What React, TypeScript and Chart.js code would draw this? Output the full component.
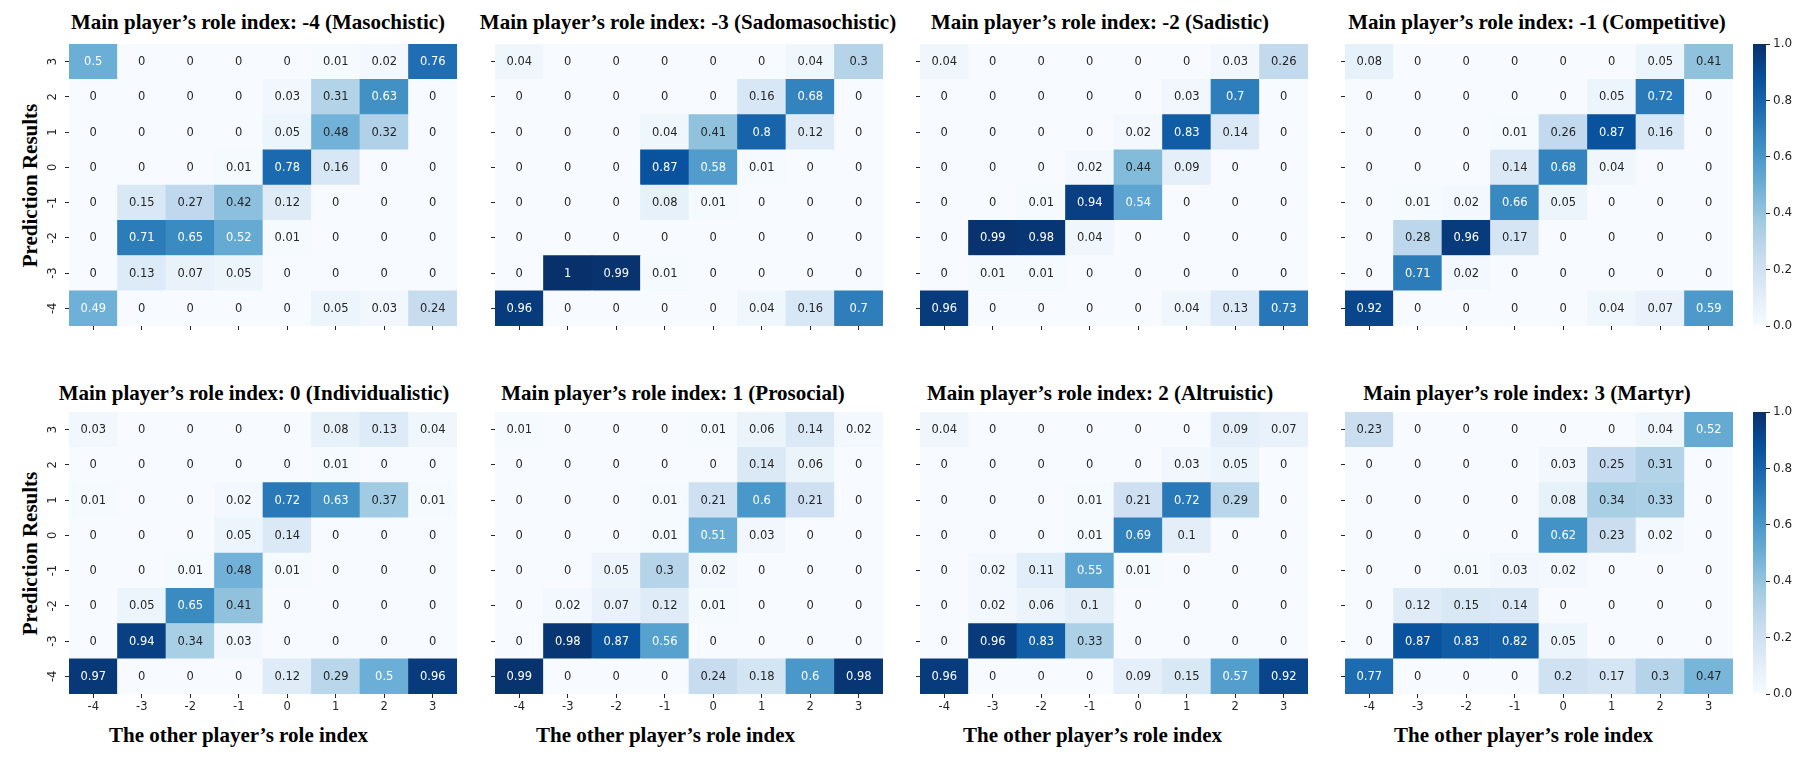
import React, { useEffect, useRef } from 'react';
import { Chart, registerables } from 'chart.js';

Chart.register(...registerables);

// ---------- data ----------
const roleIndices = ['-4', '-3', '-2', '-1', '0', '1', '2', '3']; // columns, left -> right
const predictionRows = ['3', '2', '1', '0', '-1', '-2', '-3', '-4']; // rows, top -> bottom

const panelTitles = [
  'Main player\u2019s role index: -4 (Masochistic)',
  'Main player\u2019s role index: -3 (Sadomasochistic)',
  'Main player\u2019s role index: -2 (Sadistic)',
  'Main player\u2019s role index: -1 (Competitive)',
  'Main player\u2019s role index: 0 (Individualistic)',
  'Main player\u2019s role index: 1 (Prosocial)',
  'Main player\u2019s role index: 2 (Altruistic)',
  'Main player\u2019s role index: 3 (Martyr)',
];
const xAxisTitle = 'The other player\u2019s role index';
const yAxisTitle = 'Prediction Results';

const masochistic = [
  [0.5, 0, 0, 0, 0, 0.01, 0.02, 0.76],
  [0, 0, 0, 0, 0.03, 0.31, 0.63, 0],
  [0, 0, 0, 0, 0.05, 0.48, 0.32, 0],
  [0, 0, 0, 0.01, 0.78, 0.16, 0, 0],
  [0, 0.15, 0.27, 0.42, 0.12, 0, 0, 0],
  [0, 0.71, 0.65, 0.52, 0.01, 0, 0, 0],
  [0, 0.13, 0.07, 0.05, 0, 0, 0, 0],
  [0.49, 0, 0, 0, 0, 0.05, 0.03, 0.24],
];
const sadomasochistic = [
  [0.04, 0, 0, 0, 0, 0, 0.04, 0.3],
  [0, 0, 0, 0, 0, 0.16, 0.68, 0],
  [0, 0, 0, 0.04, 0.41, 0.8, 0.12, 0],
  [0, 0, 0, 0.87, 0.58, 0.01, 0, 0],
  [0, 0, 0, 0.08, 0.01, 0, 0, 0],
  [0, 0, 0, 0, 0, 0, 0, 0],
  [0, 1, 0.99, 0.01, 0, 0, 0, 0],
  [0.96, 0, 0, 0, 0, 0.04, 0.16, 0.7],
];
const sadistic = [
  [0.04, 0, 0, 0, 0, 0, 0.03, 0.26],
  [0, 0, 0, 0, 0, 0.03, 0.7, 0],
  [0, 0, 0, 0, 0.02, 0.83, 0.14, 0],
  [0, 0, 0, 0.02, 0.44, 0.09, 0, 0],
  [0, 0, 0.01, 0.94, 0.54, 0, 0, 0],
  [0, 0.99, 0.98, 0.04, 0, 0, 0, 0],
  [0, 0.01, 0.01, 0, 0, 0, 0, 0],
  [0.96, 0, 0, 0, 0, 0.04, 0.13, 0.73],
];
const competitive = [
  [0.08, 0, 0, 0, 0, 0, 0.05, 0.41],
  [0, 0, 0, 0, 0, 0.05, 0.72, 0],
  [0, 0, 0, 0.01, 0.26, 0.87, 0.16, 0],
  [0, 0, 0, 0.14, 0.68, 0.04, 0, 0],
  [0, 0.01, 0.02, 0.66, 0.05, 0, 0, 0],
  [0, 0.28, 0.96, 0.17, 0, 0, 0, 0],
  [0, 0.71, 0.02, 0, 0, 0, 0, 0],
  [0.92, 0, 0, 0, 0, 0.04, 0.07, 0.59],
];
const individualistic = [
  [0.03, 0, 0, 0, 0, 0.08, 0.13, 0.04],
  [0, 0, 0, 0, 0, 0.01, 0, 0],
  [0.01, 0, 0, 0.02, 0.72, 0.63, 0.37, 0.01],
  [0, 0, 0, 0.05, 0.14, 0, 0, 0],
  [0, 0, 0.01, 0.48, 0.01, 0, 0, 0],
  [0, 0.05, 0.65, 0.41, 0, 0, 0, 0],
  [0, 0.94, 0.34, 0.03, 0, 0, 0, 0],
  [0.97, 0, 0, 0, 0.12, 0.29, 0.5, 0.96],
];
const prosocial = [
  [0.01, 0, 0, 0, 0.01, 0.06, 0.14, 0.02],
  [0, 0, 0, 0, 0, 0.14, 0.06, 0],
  [0, 0, 0, 0.01, 0.21, 0.6, 0.21, 0],
  [0, 0, 0, 0.01, 0.51, 0.03, 0, 0],
  [0, 0, 0.05, 0.3, 0.02, 0, 0, 0],
  [0, 0.02, 0.07, 0.12, 0.01, 0, 0, 0],
  [0, 0.98, 0.87, 0.56, 0, 0, 0, 0],
  [0.99, 0, 0, 0, 0.24, 0.18, 0.6, 0.98],
];
const altruistic = [
  [0.04, 0, 0, 0, 0, 0, 0.09, 0.07],
  [0, 0, 0, 0, 0, 0.03, 0.05, 0],
  [0, 0, 0, 0.01, 0.21, 0.72, 0.29, 0],
  [0, 0, 0, 0.01, 0.69, 0.1, 0, 0],
  [0, 0.02, 0.11, 0.55, 0.01, 0, 0, 0],
  [0, 0.02, 0.06, 0.1, 0, 0, 0, 0],
  [0, 0.96, 0.83, 0.33, 0, 0, 0, 0],
  [0.96, 0, 0, 0, 0.09, 0.15, 0.57, 0.92],
];
const martyr = [
  [0.23, 0, 0, 0, 0, 0, 0.04, 0.52],
  [0, 0, 0, 0, 0.03, 0.25, 0.31, 0],
  [0, 0, 0, 0, 0.08, 0.34, 0.33, 0],
  [0, 0, 0, 0, 0.62, 0.23, 0.02, 0],
  [0, 0, 0.01, 0.03, 0.02, 0, 0, 0],
  [0, 0.12, 0.15, 0.14, 0, 0, 0, 0],
  [0, 0.87, 0.83, 0.82, 0.05, 0, 0, 0],
  [0.77, 0, 0, 0, 0.2, 0.17, 0.3, 0.47],
];
const panelValues = [masochistic, sadomasochistic, sadistic, competitive, individualistic, prosocial, altruistic, martyr];
const colorbarTicks = [0, 0.2, 0.4, 0.6, 0.8, 1.0];

// ---------- style ----------
const BLUES = [
  [247, 251, 255], [222, 235, 247], [198, 219, 239], [158, 202, 225], [107, 174, 214],
  [66, 146, 198], [33, 113, 181], [8, 81, 156], [8, 48, 107],
];
const DARK = '#262626';
const SANS = '"DejaVu Sans", sans-serif';
const SERIF = '"Liberation Serif", "Times New Roman", serif';

const L = {
  heatLefts: [69, 495, 920, 1345],
  heatTops: [44, 412],
  heatW: 388,
  heatH: 282,
  titleCenters: [[258, 688, 1100, 1537], [254, 673, 1100, 1527]],
  titleTops: [12, 383],
  xLabelCenters: [238.5, 665.5, 1092.5, 1523.5],
  xLabelTop: 725,
  yLabelX: 30,
  cbLeft: 1753,
  cbW: 13,
  yAxisW: 40,
  xAxisH: 28,
  pad: 4,
};

function blues(v: number): number[] {
  const t = Math.min(1, Math.max(0, v)) * 8;
  const i = Math.min(7, Math.floor(t));
  const f = t - i;
  const a = BLUES[i], b = BLUES[i + 1];
  return [0, 1, 2].map((k) => a[k] + (b[k] - a[k]) * f);
}
function rgb(c: number[]) {
  return `rgb(${Math.round(c[0])},${Math.round(c[1])},${Math.round(c[2])})`;
}
function luminance(c: number[]) {
  const lin = (x: number) => {
    const s = x / 255;
    return s <= 0.03928 ? s / 12.92 : Math.pow((s + 0.055) / 1.055, 2.4);
  };
  return 0.2126 * lin(c[0]) + 0.7152 * lin(c[1]) + 0.0722 * lin(c[2]);
}
function textColor(v: number) {
  return luminance(blues(v)) > 0.4 ? DARK : '#ffffff';
}

const cellTextPlugin = {
  id: 'cellText',
  afterDatasetsDraw(chart: any) {
    const ctx = chart.ctx;
    ctx.save();
    ctx.font = `11.5px ${SANS}`;
    ctx.textAlign = 'center';
    ctx.textBaseline = 'middle';
    chart.data.datasets.forEach((ds: any, di: number) => {
      const meta = chart.getDatasetMeta(di);
      meta.data.forEach((el: any, j: number) => {
        const v = ds.cellValues[j];
        const { x, y, base } = el.getProps(['x', 'y', 'base'], true);
        ctx.fillStyle = textColor(v);
        ctx.fillText(String(v), x, (y + base) / 2 + 0.5);
      });
    });
    ctx.restore();
  },
};

function zeroPad(s: any) {
  s.paddingLeft = 0;
  s.paddingRight = 0;
  s.paddingTop = 0;
  s.paddingBottom = 0;
}

function HeatmapPanel({ values, col, row }: { values: number[][]; col: number; row: number }) {
  const ref = useRef<HTMLCanvasElement | null>(null);
  const showX = row === 1;
  const showY = col === 0;
  const width = L.yAxisW + L.heatW + L.pad;
  const height = L.pad + L.heatH + L.xAxisH;
  const left = L.heatLefts[col] - L.yAxisW;
  const top = L.heatTops[row] - L.pad;

  useEffect(() => {
    if (!ref.current) return;
    const bottomUp = [...predictionRows].reverse();
    const datasets = bottomUp.map((label, k) => {
      const rowVals = values[predictionRows.length - 1 - k];
      return {
        label,
        data: rowVals.map(() => 1),
        cellValues: rowVals,
        backgroundColor: rowVals.map((v) => rgb(blues(v))),
        borderWidth: 0,
        barPercentage: 1,
        categoryPercentage: 1,
      };
    });
    const gridOpts = {
      display: true,
      offset: false,
      drawOnChartArea: false,
      drawTicks: true,
      tickLength: 4,
      color: DARK,
      lineWidth: 1,
    };
    const chart = new Chart(ref.current, {
      type: 'bar',
      data: { labels: roleIndices, datasets: datasets as any },
      plugins: [cellTextPlugin],
      options: {
        responsive: false,
        maintainAspectRatio: false,
        animation: false,
        events: [],
        layout: { padding: { top: L.pad, right: L.pad, left: 0, bottom: 0 } },
        plugins: { legend: { display: false }, tooltip: { enabled: false }, title: { display: false } },
        scales: {
          x: {
            type: 'category',
            stacked: true,
            offset: true,
            grid: gridOpts,
            border: { display: false },
            ticks: {
              color: showX ? DARK : 'rgba(0,0,0,0)',
              font: { family: SANS, size: 11.5 },
              padding: 2,
              minRotation: 0,
              maxRotation: 0,
              autoSkip: false,
            },
            afterFit: (s: any) => {
              s.height = L.xAxisH;
              zeroPad(s);
            },
          },
          y: {
            type: 'linear',
            stacked: true,
            min: 0,
            max: predictionRows.length,
            afterBuildTicks: (axis: any) => {
              axis.ticks = bottomUp.map((_, i) => ({ value: i + 0.5 }));
            },
            grid: gridOpts,
            border: { display: false },
            ticks: {
              callback: (_v: any, i: number) => bottomUp[i],
              color: showY ? DARK : 'rgba(0,0,0,0)',
              font: { family: SANS, size: 11.5 },
              minRotation: 90,
              maxRotation: 90,
              crossAlign: 'center',
              padding: 6,
              autoSkip: false,
            },
            afterFit: (s: any) => {
              s.width = L.yAxisW;
              zeroPad(s);
            },
          },
        },
      } as any,
    });
    return () => chart.destroy();
  }, [values, col, row]);

  return (
    <canvas
      ref={ref}
      width={width}
      height={height}
      style={{ position: 'absolute', left, top, width, height }}
    />
  );
}

function Colorbar({ row }: { row: number }) {
  const ref = useRef<HTMLCanvasElement | null>(null);
  const padV = 8;
  const axisW = 36;
  const width = L.pad + L.cbW + axisW;
  const height = padV + L.heatH + padV;
  const left = L.cbLeft - L.pad;
  const top = L.heatTops[row] - padV;

  useEffect(() => {
    if (!ref.current) return;
    const chart = new Chart(ref.current, {
      type: 'bar',
      data: {
        labels: [''],
        datasets: [
          {
            data: [[colorbarTicks[0], colorbarTicks[colorbarTicks.length - 1]]],
            backgroundColor: (ctx: any) => {
              const area = ctx.chart.chartArea;
              if (!area) return rgb(BLUES[4]);
              const g = ctx.chart.ctx.createLinearGradient(0, area.bottom, 0, area.top);
              BLUES.forEach((c, i) => g.addColorStop(i / (BLUES.length - 1), rgb(c)));
              return g;
            },
            borderWidth: 0,
            barPercentage: 1,
            categoryPercentage: 1,
          },
        ] as any,
      },
      options: {
        responsive: false,
        maintainAspectRatio: false,
        animation: false,
        events: [],
        layout: { padding: { top: padV, bottom: padV, left: L.pad, right: 0 } },
        plugins: { legend: { display: false }, tooltip: { enabled: false }, title: { display: false } },
        scales: {
          x: { display: false, offset: true },
          y: {
            type: 'linear',
            position: 'right',
            min: 0,
            max: 1,
            afterBuildTicks: (axis: any) => {
              axis.ticks = colorbarTicks.map((v) => ({ value: v }));
            },
            grid: { display: true, drawOnChartArea: false, drawTicks: true, tickLength: 4, color: DARK, lineWidth: 1 },
            border: { display: false },
            ticks: {
              callback: (v: any) => Number(v).toFixed(1),
              color: DARK,
              font: { family: SANS, size: 12 },
              padding: 3,
              autoSkip: false,
            },
            afterFit: (s: any) => {
              s.width = axisW;
              zeroPad(s);
            },
          },
        },
      } as any,
    });
    return () => chart.destroy();
  }, [row]);

  return (
    <canvas
      ref={ref}
      width={width}
      height={height}
      style={{ position: 'absolute', left, top, width, height }}
    />
  );
}

const serifText: React.CSSProperties = {
  position: 'absolute',
  fontFamily: SERIF,
  fontWeight: 'bold',
  fontSize: 21,
  lineHeight: '21px',
  color: '#000',
  whiteSpace: 'nowrap',
  textAlign: 'center',
  margin: 0,
};

export default function App() {
  return (
    <div
      style={{
        position: 'absolute',
        left: 0,
        top: 0,
        width: 1806,
        height: 762,
        background: '#ffffff',
        overflow: 'hidden',
      }}
    >
      {panelTitles.map((t, i) => {
        const row = Math.floor(i / 4);
        const col = i % 4;
        return (
          <div key={'t' + i} style={{ ...serifText, left: L.titleCenters[row][col] - 300, width: 600, top: L.titleTops[row] }}>
            {t}
          </div>
        );
      })}
      {[0, 1].map((row) => (
        <div
          key={'yl' + row}
          style={{
            ...serifText,
            left: L.yLabelX - 150,
            width: 300,
            top: L.heatTops[row] + L.heatH / 2 - 10.5,
            transform: 'rotate(-90deg)',
            transformOrigin: '50% 50%',
          }}
        >
          {yAxisTitle}
        </div>
      ))}
      {L.xLabelCenters.map((cx, col) => (
        <div key={'xl' + col} style={{ ...serifText, left: cx - 200, width: 400, top: L.xLabelTop }}>
          {xAxisTitle}
        </div>
      ))}
      {panelValues.map((vals, i) => (
        <HeatmapPanel key={'p' + i} values={vals} col={i % 4} row={Math.floor(i / 4)} />
      ))}
      <Colorbar row={0} />
      <Colorbar row={1} />
    </div>
  );
}
